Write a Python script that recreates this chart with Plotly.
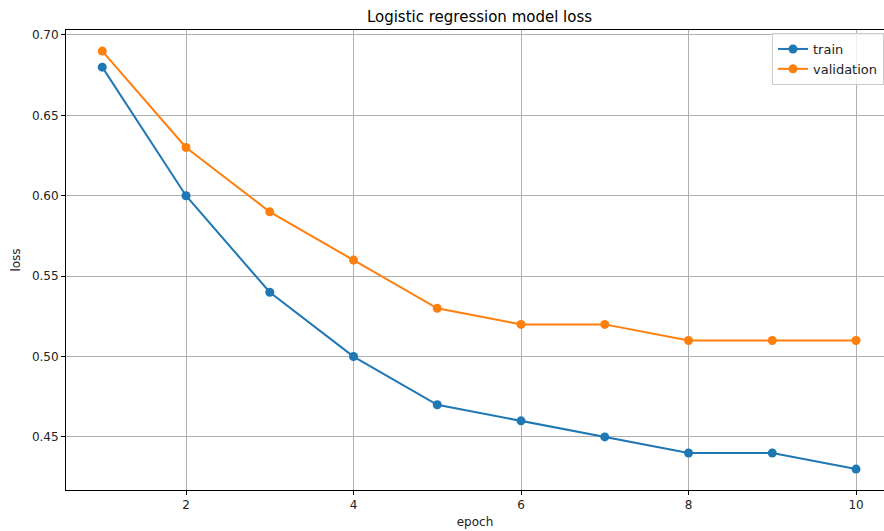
import plotly.graph_objects as go

epochs = [1, 2, 3, 4, 5, 6, 7, 8, 9, 10]
train_loss = [0.68, 0.60, 0.54, 0.50, 0.47, 0.46, 0.45, 0.44, 0.44, 0.43]
val_loss = [0.69, 0.63, 0.59, 0.56, 0.53, 0.52, 0.52, 0.51, 0.51, 0.51]
x_ticks = [2, 4, 6, 8, 10]
y_ticks = [0.45, 0.50, 0.55, 0.60, 0.65, 0.70]

FONT = "DejaVu Sans"

fig = go.Figure()
fig.add_trace(go.Scatter(x=epochs, y=train_loss, mode="lines+markers", name="train",
                         line=dict(color="#1f77b4", width=2),
                         marker=dict(color="#1f77b4", size=9)))
fig.add_trace(go.Scatter(x=epochs, y=val_loss, mode="lines+markers", name="validation",
                         line=dict(color="#ff7f0e", width=2),
                         marker=dict(color="#ff7f0e", size=9)))

fig.update_layout(
    width=884, height=531,
    margin=dict(l=66, r=0, t=30, b=41),
    plot_bgcolor="white", paper_bgcolor="white",
    font=dict(family=FONT, size=12, color="#222"),
    title=dict(text="Logistic regression model loss", xref="paper", x=0.5055, xanchor="center",
               y=1 - 17/531, yanchor="middle", font=dict(size=15, color="black")),
    legend=dict(x=1, xanchor="right", y=1 - 3/460, yanchor="top",
                bgcolor="rgba(255,255,255,0.8)", bordercolor="#cccccc", borderwidth=1,
                font=dict(size=13, color="#222"), tracegroupgap=0),
    xaxis=dict(range=[0.567, 10.334], tickvals=x_ticks, ticktext=[str(v) for v in x_ticks],
               showgrid=True, gridcolor="#b0b0b0", gridwidth=1, zeroline=False,
               showline=True, linecolor="black", linewidth=1, mirror=True,
               ticks="outside", ticklen=4, tickcolor="black",
               title=dict(text="epoch", standoff=6, font=dict(size=12))),
    yaxis=dict(range=[0.417, 0.7031], tickvals=y_ticks, ticktext=[f"{v:.2f}" for v in y_ticks],
               showgrid=True, gridcolor="#b0b0b0", gridwidth=1, zeroline=False,
               showline=True, linecolor="black", linewidth=1,
               ticks="outside", ticklen=4, tickcolor="black",
               title=dict(text="loss", standoff=8, font=dict(size=12))),
)

fig.write_html("out.html")
